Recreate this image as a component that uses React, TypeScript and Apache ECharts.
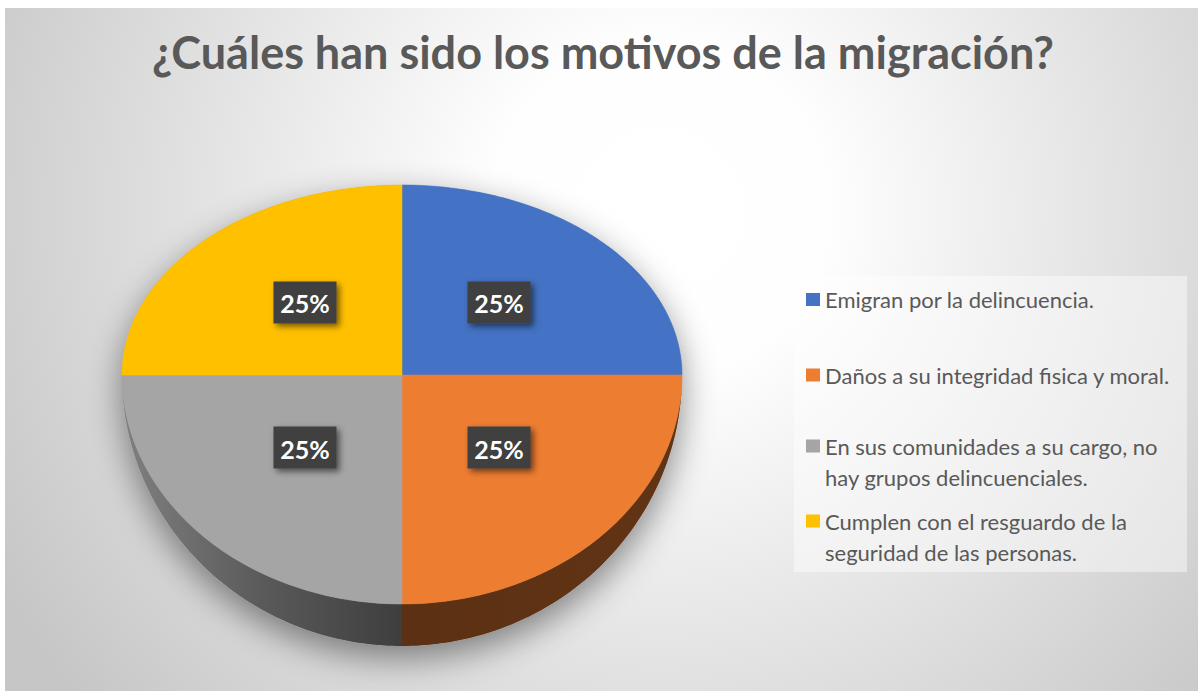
import React, { useEffect, useRef } from "react";
import * as echarts from "echarts";

const titleText = "¿Cuáles han sido los motivos de la migración?";
const categories = [
  "Emigran por la delincuencia.",
  "Daños a su integridad fisica y moral.",
  "En sus comunidades a su cargo, no hay grupos delincuenciales.",
  "Cumplen con el resguardo de la seguridad de las personas.",
];
const legendLabels = [
  "Emigran por la delincuencia.",
  "Daños a su integridad fisica y moral.",
  "\nEn sus comunidades a su cargo, no\nhay grupos delincuenciales.",
  "\nCumplen con el resguardo de la\nseguridad de las personas.",
];
const values = [25, 25, 25, 25];
const colors = ["#4472C4", "#ED7D31", "#A5A5A5", "#FFC000"];

// layout (pixels)
const CX = 402;
const CY = 375;
const RX = 280;
const RYB = 190; // back half radius (perspective)
const RYF = 229; // front half radius
const D = 42; // depth
const LABEL_F = 0.49;

const topPt = (deg: number): number[] => {
  const r = (deg * Math.PI) / 180;
  const s = Math.sin(r);
  const c = Math.cos(r);
  const ry = c >= 0 ? RYB : RYF;
  return [CX + RX * s, CY - ry * c];
};
const botPt = (deg: number): number[] => {
  const r = (deg * Math.PI) / 180;
  const s = Math.sin(r);
  const c = Math.cos(r);
  const ry = c >= 0 ? RYB : RYF + D;
  return [CX + RX * s, CY - ry * c];
};
const arc = (f: (d: number) => number[], a: number, b: number): number[][] => {
  const pts: number[][] = [];
  const n = Math.max(2, Math.ceil(Math.abs(b - a)));
  for (let i = 0; i <= n; i++) pts.push(f(a + ((b - a) * i) / n));
  return pts;
};

const wallFill = (k: number): any => {
  if (k === 2) {
    return new echarts.graphic.LinearGradient(
      CX - RX, 0, CX, 0,
      [
        { offset: 0, color: "#808080" },
        { offset: 0.5, color: "#5a5a5a" },
        { offset: 1, color: "#3e3e3e" },
      ],
      true
    );
  }
  if (k === 1) {
    return new echarts.graphic.LinearGradient(
      CX, 0, CX + RX, 0,
      [
        { offset: 0, color: "#5c3012" },
        { offset: 1, color: "#603415" },
      ],
      true
    );
  }
  return "#333";
};

const makeRender = (k: number) => (params: any, api: any) => {
  const total = values.reduce((a, b) => a + b, 0);
  let acc = 0;
  for (let i = 0; i < k; i++) acc += values[i];
  const v = api.value(0);
  const a0 = (acc / total) * 360;
  const a1 = ((acc + v) / total) * 360;
  const children: any[] = [];
  if (k === 0) {
    children.push({
      type: "polygon",
      shape: { points: arc(botPt, 0, 360) },
      style: {
        fill: "#9a9a9a",
        shadowBlur: 34,
        shadowColor: "rgba(0,0,0,0.45)",
        shadowOffsetX: 0,
        shadowOffsetY: 12,
      },
    });
  }
  const w0 = Math.max(a0, 90);
  const w1 = Math.min(a1, 270);
  if (w1 > w0) {
    const pts = arc(topPt, w0, w1).concat(arc(botPt, w1, w0));
    children.push({
      type: "polygon",
      shape: { points: pts },
      style: { fill: wallFill(k) },
    });
  }
  children.push({
    type: "polygon",
    shape: { points: [[CX, CY]].concat(arc(topPt, a0, a1)) },
    style: { fill: colors[k], stroke: colors[k], lineWidth: 0.5 },
  });
  const mid = ((a0 + a1) / 2) * (Math.PI / 180);
  const lx = CX + RX * LABEL_F * Math.sin(mid);
  const ly = CY - ((RYB + RYF) / 2) * LABEL_F * Math.cos(mid);
  children.push({
    type: "rect",
    shape: { x: lx - 31.5, y: ly - 21, width: 63, height: 42 },
    style: {
      fill: "#404040",
      shadowBlur: 6,
      shadowColor: "rgba(0,0,0,0.55)",
      shadowOffsetX: 3,
      shadowOffsetY: 3,
    },
  });
  children.push({
    type: "text",
    x: lx,
    y: ly + 1,
    style: {
      text: Math.round((v / total) * 100) + "%",
      fill: "#ffffff",
      fontFamily: "Lato",
      fontWeight: "bold",
      fontSize: 25,
      align: "center",
      verticalAlign: "middle",
      textAlign: "center",
      textVerticalAlign: "middle",
    },
  });
  return { type: "group", children };
};

const legendTops = [284, 359.5, 399.5, 474.5];

export default function App() {
  const ref = useRef<HTMLDivElement>(null);
  useEffect(() => {
    if (!ref.current) return;
    const chart = echarts.init(ref.current, undefined, { renderer: "svg" });
    const option: any = {
      animation: false,
      title: {
        text: titleText,
        left: 603,
        textAlign: "center",
        top: 29,
        padding: 0,
        textStyle: {
          fontFamily: "Lato",
          fontWeight: "bold",
          fontSize: 45,
          color: "#595959",
        },
      },
      graphic: [
        {
          type: "rect",
          z: -10,
          silent: true,
          shape: { x: 5, y: 8, width: 1193, height: 683 },
          style: {
            fill: new echarts.graphic.RadialGradient(
              660, 210, 760,
              [
                { offset: 0, color: "#ffffff" },
                { offset: 0.22, color: "#fefefe" },
                { offset: 1, color: "#c6c6c6" },
              ],
              true
            ),
          },
        },
        {
          type: "rect",
          z: -5,
          silent: true,
          shape: { x: 794, y: 276, width: 393, height: 296 },
          style: { fill: "rgba(255,255,255,0.45)" },
        },
      ],
      legend: categories.map((name, i) => ({
        data: [name],
        orient: "vertical",
        left: 806,
        top: legendTops[i],
        padding: 0,
        itemWidth: 14,
        itemHeight: 13,
        itemGap: 0,
        icon: "rect",
        selectedMode: false,
        formatter: () => legendLabels[i],
        textStyle: {
          fontFamily: "Lato",
          fontSize: 22,
          color: "#595959",
          lineHeight: 31,
        },
      })),
      series: categories.map((name, k) => ({
        type: "custom",
        name,
        coordinateSystem: "none",
        itemStyle: { color: colors[k] },
        renderItem: makeRender(k),
        data: [[values[k]]],
        silent: true,
      })),
    };
    chart.setOption(option);
    return () => chart.dispose();
  }, []);
  return (
    <div
      ref={ref}
      style={{ position: "absolute", left: 0, top: 0, width: 1198, height: 691 }}
    />
  );
}
